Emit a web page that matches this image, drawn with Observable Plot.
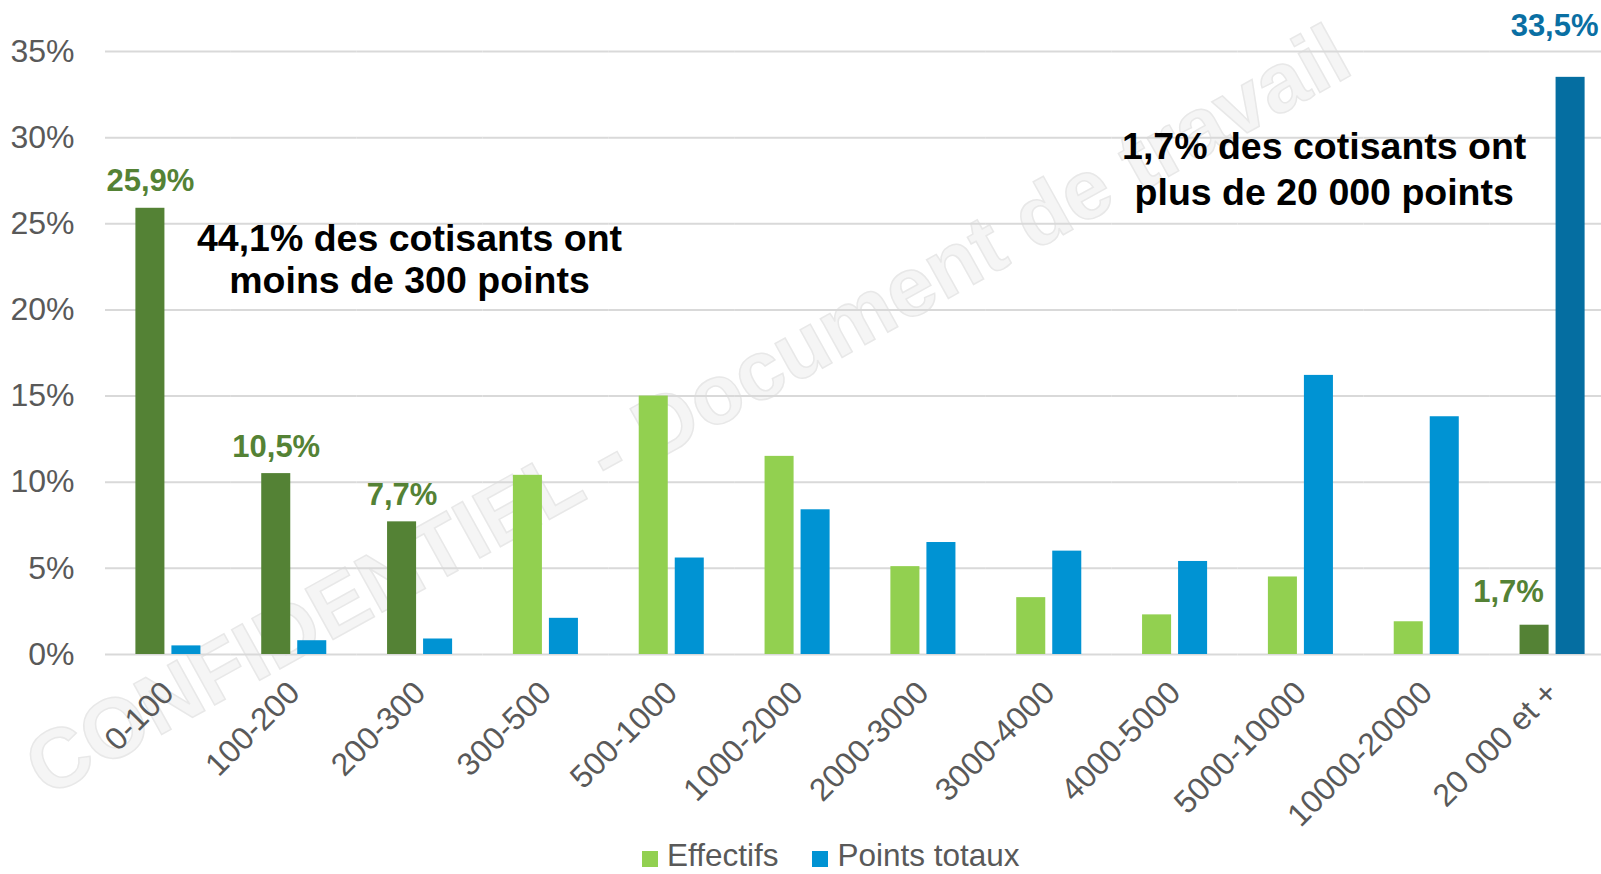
<!DOCTYPE html>
<html>
<head>
<meta charset="utf-8">
<script src="https://cdn.jsdelivr.net/npm/d3@7"></script>
<script src="https://cdn.jsdelivr.net/npm/@observablehq/plot@0.6"></script>
<style>
  html, body { margin: 0; padding: 0; background: #ffffff; overflow: hidden; width: 1601px; height: 874px; }
  #wm { position: absolute; left: 0; top: 0; }
  #chart { position: absolute; left: 0; top: 0; }
  #chart svg { max-width: none !important; }
  #legend { position: absolute; left: 642px; top: 840px; display: flex; align-items: center;
            font-family: "Liberation Sans", Arial, sans-serif; font-size: 31.5px; color: #595959; line-height: 31px; white-space: nowrap; }
  #legend .sw { display: inline-block; width: 16px; height: 16px; margin-right: 9px; margin-top: 6px; }
  #legend .item { display: flex; align-items: center; margin-right: 34px; }
</style>
</head>
<body>
<div id="wm"></div>
<div id="chart"></div>
<div id="legend"></div>
<script>
// ---- data ----
const categories = ["0-100", "100-200", "200-300", "300-500", "500-1000", "1000-2000",
  "2000-3000", "3000-4000", "4000-5000", "5000-10000", "10000-20000", "20 000 et +"];
const series = ["Effectifs", "Points totaux"];
const effectifs = [25.9, 10.5, 7.7, 10.4, 15.0, 11.5, 5.1, 3.3, 2.3, 4.5, 1.9, 1.7];
const pointsTotaux = [0.5, 0.8, 0.9, 2.1, 5.6, 8.4, 6.5, 6.0, 5.4, 16.2, 13.8, 33.5];
const highlightedEffectifs = ["0-100", "100-200", "200-300", "20 000 et +"];
const highlightedPoints = ["20 000 et +"];
const labelledEffectifs = ["0-100", "100-200", "200-300"];
const yTicks = [0, 5, 10, 15, 20, 25, 30, 35];
const annotationLeft = "44,1% des cotisants ont\nmoins de 300 points";
const annotationRight = "1,7% des cotisants ont\nplus de 20 000 points";
const watermark = "CONFIDENTIEL - Document de travail";

// ---- colours ----
const colors = {
  "Effectifs": "#92d050", "Points totaux": "#0093d3",
  "EffectifsHL": "#548235", "Points totauxHL": "#056ea1"
};

const rows = categories.flatMap((c, i) => [
  {cat: c, serie: "Effectifs", value: effectifs[i], hl: highlightedEffectifs.includes(c)},
  {cat: c, serie: "Points totaux", value: pointsTotaux[i], hl: highlightedPoints.includes(c)}
]);
const fmt = v => v.toFixed(1).replace(".", ",") + "%";

const greenLabels = rows.filter(d => d.serie === "Effectifs" && labelledEffectifs.includes(d.cat));
const lastCat = categories[categories.length - 1];
const lastEff = rows.filter(d => d.serie === "Effectifs" && d.cat === lastCat);
const lastPts = rows.filter(d => d.serie === "Points totaux" && d.cat === lastCat);

// ---- faint background watermark ----
const wm = d3.select("#wm").append("svg").attr("width", 1601).attr("height", 874);
wm.append("text")
  .attr("transform", "translate(688,412) rotate(-29)")
  .attr("text-anchor", "middle")
  .attr("dy", "0.32em")
  .attr("font-family", "Liberation Sans, Arial, sans-serif")
  .attr("font-weight", "bold")
  .attr("font-size", 84)
  .attr("fill", "#f5f5f5")
  .attr("stroke", "#e8e8e8")
  .attr("stroke-width", 1.5)
  .text(watermark);

const plot = Plot.plot({
  width: 1615,
  height: 830,
  marginLeft: 105,
  marginRight: 0,
  marginTop: 51,
  marginBottom: 176,
  style: {fontFamily: "Liberation Sans, Arial, sans-serif", fontSize: "32px", color: "#595959",
          background: "transparent", overflow: "visible", maxWidth: "none"},
  fx: {domain: categories, padding: 0, round: false, label: null, tickRotate: -45, tickSize: 0, tickPadding: 33},
  x: {domain: series, paddingInner: 0.194, paddingOuter: 0.844, round: false, axis: null},
  y: {domain: [0, 35], ticks: yTicks, tickFormat: d => d + "%", label: null, tickSize: 0, tickPadding: 31},
  marks: [
    Plot.gridY(yTicks, {stroke: "#d9d9d9", strokeWidth: 2, strokeOpacity: 1}),
    Plot.barY(rows, {fx: "cat", x: "serie", y: "value",
      fill: d => colors[d.serie + (d.hl ? "HL" : "")]}),
    Plot.text(greenLabels, {fx: "cat", x: "serie", y: "value", text: d => fmt(d.value),
      lineAnchor: "bottom", dy: -17, fontSize: 31, fontWeight: "bold", fill: "#548235"}),
    Plot.text(lastEff, {fx: "cat", x: "serie", y: "value", text: d => fmt(d.value),
      lineAnchor: "bottom", dx: -26, dy: -23, fontSize: 31, fontWeight: "bold", fill: "#548235"}),
    Plot.text(lastPts, {fx: "cat", x: "serie", y: "value", text: d => fmt(d.value),
      lineAnchor: "bottom", dx: -16, dy: -41, fontSize: 31, fontWeight: "bold", fill: "#0a6fa3"}),
    Plot.text([{cat: "200-300", y: 21}], {fx: "cat", y: "y", text: () => annotationLeft,
      lineAnchor: "bottom", lineHeight: 1.12, dx: -10.6, fontSize: 37.5, fontWeight: "bold", fill: "#000000"}),
    Plot.text([{cat: "5000-10000", y: 26.1}], {fx: "cat", y: "y", text: () => annotationRight,
      lineAnchor: "bottom", lineHeight: 1.227, dx: 23.3, fontSize: 37.5, fontWeight: "bold", fill: "#000000"})
  ]
});
document.getElementById("chart").appendChild(plot);

// legend
const legend = document.getElementById("legend");
series.forEach(s => {
  const item = document.createElement("span");
  item.className = "item";
  const sw = document.createElement("span");
  sw.className = "sw";
  sw.style.background = colors[s];
  const t = document.createElement("span");
  t.textContent = s;
  item.appendChild(sw);
  item.appendChild(t);
  legend.appendChild(item);
});
</script>
</body>
</html>
